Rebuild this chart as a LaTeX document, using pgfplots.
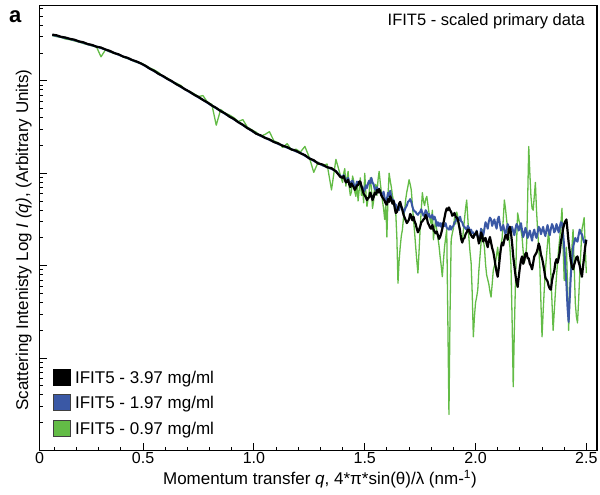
\documentclass[border=0pt]{standalone}
\usepackage{fontspec}
\setmainfont{Liberation Sans}
\usepackage{pgfplots}
\usepackage{pgfplotstable}
\pgfplotsset{compat=1.18}
\definecolor{sblue}{RGB}{58,88,165}
\definecolor{sgreen}{RGB}{99,188,70}
% q, log10 I for 3.97 (k), 1.97 (b), 0.97 (g) mg/ml
\pgfplotstableread{
q k b g
0.09 4.500 4.495 4.490
0.11 4.492 4.486 4.478
0.13 4.476 4.474 4.470
0.15 4.468 4.463 4.452
0.17 4.454 4.452 4.445
0.19 4.445 4.440 4.432
0.21 4.427 4.425 4.420
0.23 4.417 4.412 4.404
0.25 4.398 4.396 4.392
0.27 4.388 4.383 4.378
0.29 4.369 4.370 4.365
0.31 4.360 4.354 4.260
0.33 4.339 4.338 4.335
0.35 4.324 4.318 4.312
0.37 4.300 4.302 4.296
0.39 4.286 4.281 4.285
0.41 4.262 4.263 4.258
0.43 4.249 4.245 4.240
0.45 4.226 4.224 4.222
0.47 4.210 4.206 4.200
0.49 4.188 4.187 4.195
0.51 4.164 4.160 4.168
0.53 4.132 4.131 4.140
0.55 4.108 4.104 4.118
0.57 4.075 4.076 4.090
0.59 4.052 4.047 4.045
0.61 4.020 4.020 4.030
0.63 3.996 3.991 3.990
0.65 3.963 3.965 3.975
0.67 3.939 3.934 3.950
0.69 3.907 3.907 3.905
0.71 3.882 3.877 3.885
0.73 3.850 3.850 3.860
0.75 3.825 3.820 3.830
0.77 3.793 3.794 3.840
0.79 3.767 3.762 3.770
0.81 3.733 3.733 3.745
0.83 3.707 3.702 3.520
0.85 3.672 3.674 3.690
0.87 3.647 3.642 3.650
0.89 3.612 3.614 3.630
0.91 3.587 3.582 3.600
0.93 3.551 3.553 3.560
0.95 3.525 3.520 3.580
0.97 3.489 3.490 3.500
0.99 3.463 3.458 3.470
1.01 3.428 3.430 3.445
1.03 3.410 3.404 3.400
1.05 3.383 3.385 3.420
1.07 3.366 3.360 3.450
1.09 3.338 3.340 3.350
1.11 3.322 3.316 3.330
1.13 3.297 3.299 3.280
1.15 3.283 3.276 3.320
1.17 3.257 3.259 3.250
1.19 3.243 3.236 3.260
1.21 3.216 3.220 3.230
1.23 3.196 3.189 3.290
1.25 3.160 3.163 3.170
1.27 3.141 3.134 3.010
1.29 3.105 3.108 3.120
1.31 3.094 3.085 3.080
1.33 3.065 3.068 3.100
1.35 3.055 3.046 2.820
1.37 3.020 3.022 3.150
1.39 2.960 2.970 2.980
1.40 2.95 2.96 2.90
1.405 2.97 2.98 3.00
1.41 2.93 2.95 3.05
1.415 2.90 2.92 2.86
1.42 2.91 2.92 2.95
1.425 2.93 2.95 3.02
1.43 2.88 2.90 2.85
1.435 2.85 2.88 2.76
1.44 2.89 2.91 2.80
1.445 2.87 2.92 2.97
1.45 2.85 2.88 2.92
1.455 2.82 2.84 2.80
1.46 2.84 2.86 2.75
1.465 2.87 2.91 2.88
1.47 2.87 2.88 2.70
1.475 2.91 2.90 2.82
1.48 2.91 2.90 2.95
1.485 2.86 2.86 2.76
1.49 2.82 2.85 2.85
1.495 2.78 2.80 2.68
1.50 2.76 2.82 3.00
1.505 2.74 2.87 2.80
1.51 2.71 2.84 2.64
1.515 2.73 2.89 2.72
1.52 2.74 2.92 2.80
1.525 2.79 2.89 2.95
1.53 2.76 2.95 2.84
1.535 2.71 2.90 2.62
1.54 2.74 2.88 2.70
1.545 2.79 2.83 2.86
1.55 2.77 2.82 2.88
1.555 2.82 2.85 2.76
1.56 2.79 2.80 2.93
1.565 2.83 2.83 3.02
1.57 2.80 2.80 2.90
1.575 2.76 2.77 2.80
1.58 2.74 2.76 2.70
1.585 2.72 2.80 2.62
1.59 2.70 2.73 2.50
1.595 2.67 2.69 2.66
1.60 2.66 2.72 2.31
1.605 2.72 2.79 2.75
1.61 2.69 2.75 3.00
1.615 2.75 2.81 2.92
1.62 2.72 2.74 2.85
1.625 2.67 2.69 2.76
1.63 2.70 2.71 2.70
1.635 2.63 2.67 2.62
1.64 2.57 2.66 2.57
1.645 2.58 2.61 2.30
1.65 2.62 2.63 1.81
1.655 2.67 2.60 2.05
1.66 2.69 2.66 2.20
1.665 2.64 2.64 2.32
1.67 2.60 2.62 2.39
1.675 2.55 2.57 2.52
1.68 2.52 2.60 2.60
1.685 2.49 2.63 2.72
1.69 2.46 2.65 2.80
1.695 2.48 2.69 2.86
1.70 2.50 2.70 2.93
1.705 2.56 2.72 2.88
1.71 2.54 2.69 2.82
1.715 2.49 2.64 2.66
1.72 2.53 2.60 2.50
1.725 2.48 2.59 2.36
1.73 2.45 2.58 2.20
1.735 2.40 2.56 2.05
1.74 2.36 2.55 1.92
1.745 2.39 2.57 2.15
1.75 2.42 2.58 2.40
1.755 2.47 2.61 2.60
1.76 2.48 2.57 2.79
1.765 2.50 2.54 2.70
1.77 2.51 2.56 2.65
1.775 2.55 2.60 2.72
1.78 2.52 2.58 2.75
1.785 2.46 2.53 2.66
1.79 2.44 2.56 2.57
1.795 2.41 2.52 2.50
1.80 2.40 2.52 2.45
1.805 2.44 2.55 2.60
1.81 2.39 2.50 2.28
1.815 2.37 2.53 2.40
1.82 2.35 2.49 2.50
1.825 2.37 2.43 2.38
1.83 2.33 2.47 2.30
1.835 2.29 2.43 2.22
1.84 2.31 2.46 2.10
1.845 2.35 2.42 2.00
1.85 2.40 2.46 1.88
1.855 2.46 2.44 2.05
1.86 2.52 2.43 2.20
1.865 2.58 2.46 2.30
1.87 2.62 2.41 2.39
1.875 2.60 2.40 1.40
1.88 2.63 2.39 0.39
1.885 2.60 2.43 1.50
1.89 2.58 2.39 2.28
1.895 2.54 2.42 2.35
1.90 2.55 2.43 2.40
1.905 2.57 2.47 2.52
1.91 2.53 2.48 2.45
1.915 2.52 2.52 2.58
1.92 2.50 2.52 2.53
1.925 2.44 2.49 2.42
1.93 2.38 2.53 2.35
1.935 2.29 2.48 2.30
1.94 2.25 2.47 2.25
1.945 2.29 2.43 2.38
1.95 2.30 2.42 2.50
1.955 2.34 2.40 2.62
1.96 2.36 2.39 2.71
1.965 2.39 2.43 2.52
1.97 2.39 2.41 2.30
1.975 2.35 2.36 2.15
1.98 2.33 2.39 2.03
1.985 2.31 2.35 1.70
1.99 2.30 2.36 1.23
1.995 2.34 2.33 1.45
2.00 2.34 2.33 1.60
2.005 2.37 2.38 1.66
2.01 2.31 2.31 1.74
2.015 2.24 2.27 1.95
2.02 2.28 2.31 2.10
2.025 2.36 2.40 2.25
2.03 2.33 2.35 2.39
2.035 2.26 2.33 2.28
2.04 2.29 2.40 2.20
2.045 2.30 2.47 2.02
2.05 2.24 2.44 1.90
2.055 2.20 2.40 1.85
2.06 2.27 2.48 1.80
2.065 2.31 2.52 1.72
2.07 2.25 2.50 1.66
2.075 2.19 2.43 1.80
2.08 2.15 2.47 1.95
2.085 2.08 2.50 2.00
2.09 2.00 2.44 2.03
2.095 1.93 2.40 2.12
2.10 1.88 2.50 2.20
2.105 1.98 2.53 2.05
2.11 2.10 2.45 2.10
2.115 2.20 2.38 2.22
2.12 2.25 2.40 2.30
2.125 2.22 2.44 2.50
2.13 2.28 2.38 2.71
2.135 2.33 2.34 2.62
2.14 2.33 2.39 2.50
2.145 2.28 2.45 2.40
2.15 2.39 2.42 2.31
2.155 2.42 2.36 2.20
2.16 2.35 2.40 2.00
2.165 2.24 2.42 1.40
2.17 2.10 2.37 0.69
2.175 2.00 2.33 1.30
2.18 1.90 2.40 1.80
2.185 1.82 2.45 2.25
2.19 1.77 2.43 2.57
2.195 1.88 2.38 2.50
2.20 1.98 2.42 2.45
2.205 2.06 2.46 2.38
2.21 2.10 2.38 2.31
2.215 2.02 2.31 2.15
2.22 2.06 2.35 2.03
2.225 2.13 2.41 2.10
2.23 2.14 2.37 2.20
2.235 2.08 2.30 2.70
2.24 2.08 2.34 3.29
2.245 2.02 2.38 3.00
2.25 2.00 2.32 2.75
2.255 1.96 2.27 2.62
2.26 2.03 2.35 2.60
2.265 2.10 2.39 2.75
2.27 2.12 2.33 2.90
2.275 2.14 2.30 2.60
2.28 2.18 2.36 2.39
2.285 2.24 2.42 2.20
2.29 2.20 2.40 2.00
2.295 2.12 2.34 1.60
2.30 2.08 2.38 1.23
2.305 2.02 2.42 1.50
2.31 1.95 2.36 1.74
2.315 1.87 2.32 1.95
2.32 1.85 2.39 2.10
2.325 1.83 2.44 2.25
2.33 1.78 2.37 2.39
2.335 1.75 2.33 2.15
2.34 1.74 2.40 1.90
2.345 1.84 2.45 1.60
2.35 1.90 2.42 1.30
2.355 1.94 2.36 1.50
2.36 2.03 2.38 1.70
2.365 2.07 2.45 1.88
2.37 2.03 2.41 2.03
2.375 2.08 2.36 2.18
2.38 2.15 2.42 2.30
2.385 2.26 2.47 2.45
2.39 2.32 2.46 2.62
2.395 2.40 2.35 2.20
2.40 2.45 2.20 1.84
2.405 2.48 2.00 2.00
2.41 2.50 1.80 2.20
2.415 2.38 1.55 1.80
2.42 2.25 1.39 1.30
2.425 2.15 1.65 1.65
2.43 2.05 1.90 2.00
2.435 1.99 2.05 2.20
2.44 1.96 2.20 2.39
2.445 2.01 2.25 2.00
2.45 2.05 2.30 1.60
2.455 2.09 2.27 1.45
2.46 2.10 2.26 1.38
2.465 2.04 2.33 1.62
2.47 2.00 2.39 1.90
2.475 1.93 2.35 2.15
2.48 1.88 2.34 2.39
2.485 1.99 2.29 2.45
2.49 2.10 2.25 2.52
2.495 2.21 2.27 2.20
2.50 2.28 2.28 1.92
}\saxs

\begin{document}
\begin{tikzpicture}
\path (0,0) rectangle (600pt,495pt);
\node[anchor=base west, inner sep=0pt, font=\bfseries\fontsize{22}{26}\selectfont] at (9pt,472pt) {a};
\begin{axis}[
  at={(39.5pt,44.5pt)}, anchor=south west,
  width=557.5pt, height=445pt, scale only axis,
  xmin=0.0325, xmax=2.548, ymin=0, ymax=4.815,
  xtick={0.5,1.0,1.5,2.0,2.5},
  xticklabels={0.5,1.0,1.5,2.0,2.5},
  minor xtick={0.1,0.2,0.3,0.4,0.6,0.7,0.8,0.9,1.1,1.2,1.3,1.4,1.6,1.7,1.8,1.9,2.1,2.2,2.3,2.4},
  extra x ticks={0.0325}, extra x tick labels={0},
  extra x tick style={major tick length=0pt},
  ytick={0,1,2,3,4}, yticklabels={},
  minor ytick={0.301,0.477,0.602,0.699,0.778,0.845,0.903,0.954,
               1.301,1.477,1.602,1.699,1.778,1.845,1.903,1.954,
               2.301,2.477,2.602,2.699,2.778,2.845,2.903,2.954,
               3.301,3.477,3.602,3.699,3.778,3.845,3.903,3.954,
               4.301,4.477,4.602,4.699,4.778},
  tick align=inside, xtick pos=bottom, ytick pos=left,
  major tick length=7pt, minor tick length=3.5pt,
  every tick/.style={black, line width=0.9pt},
  axis line style={line width=1.2pt},
  ticklabel style={font=\fontsize{16}{19}\selectfont},
  xticklabel style={anchor=base, inner sep=0pt, yshift=-12.8pt},
  label style={font=\fontsize{17}{20}\selectfont},
  xlabel={Momentum transfer \textit{q}, 4*π*sin(θ)/λ (nm-\textsuperscript{1})},
  ylabel={Scattering Intenisty Log \textit{I (q)}, (Arbitrary Units)},
  xlabel style={at={(rel axis cs:0.503,-0.0775)}, anchor=base, inner sep=0pt},
  ylabel style={at={(rel axis cs:-0.0206,0.473)}, anchor=base, inner sep=0pt},
  legend cell align=left,
  legend style={at={(rel axis cs:0.0242,0.0292)}, anchor=south west,
    draw=none, fill=none, inner sep=0pt, outer sep=0pt,
    row sep=6.5pt, column sep=4.5pt,
    font=\fontsize{17}{20}\selectfont,
    nodes={inner sep=0pt, text height=15.5pt, text depth=3.5pt}},
]
\addlegendimage{legend image code/.code={\draw[fill=black, draw=black, line width=0.6pt] (0pt,-8pt) rectangle (17pt,8pt);}}
\addlegendentry{IFIT5 - 3.97 mg/ml}
\addlegendimage{legend image code/.code={\draw[fill=sblue, draw=black!75, line width=0.6pt] (0pt,-8pt) rectangle (17pt,8pt);}}
\addlegendentry{IFIT5 - 1.97 mg/ml}
\addlegendimage{legend image code/.code={\draw[fill=sgreen, draw=black!75, line width=0.6pt] (0pt,-8pt) rectangle (17pt,8pt);}}
\addlegendentry{IFIT5 - 0.97 mg/ml}

\addplot[sgreen, line width=1.3pt, line join=round, forget plot] table[x=q, y=g] {\saxs};
\addplot[sblue, line width=2pt, line join=round, forget plot] table[x=q, y=b] {\saxs};
\addplot[black, line width=2.2pt, line join=round, forget plot] table[x=q, y=k] {\saxs};

\node[anchor=base east, inner sep=0pt, font=\fontsize{16.5}{19}\selectfont] at (rel axis cs:0.9785,0.956) {IFIT5 - scaled primary data};
\end{axis}
\end{tikzpicture}
\end{document}
